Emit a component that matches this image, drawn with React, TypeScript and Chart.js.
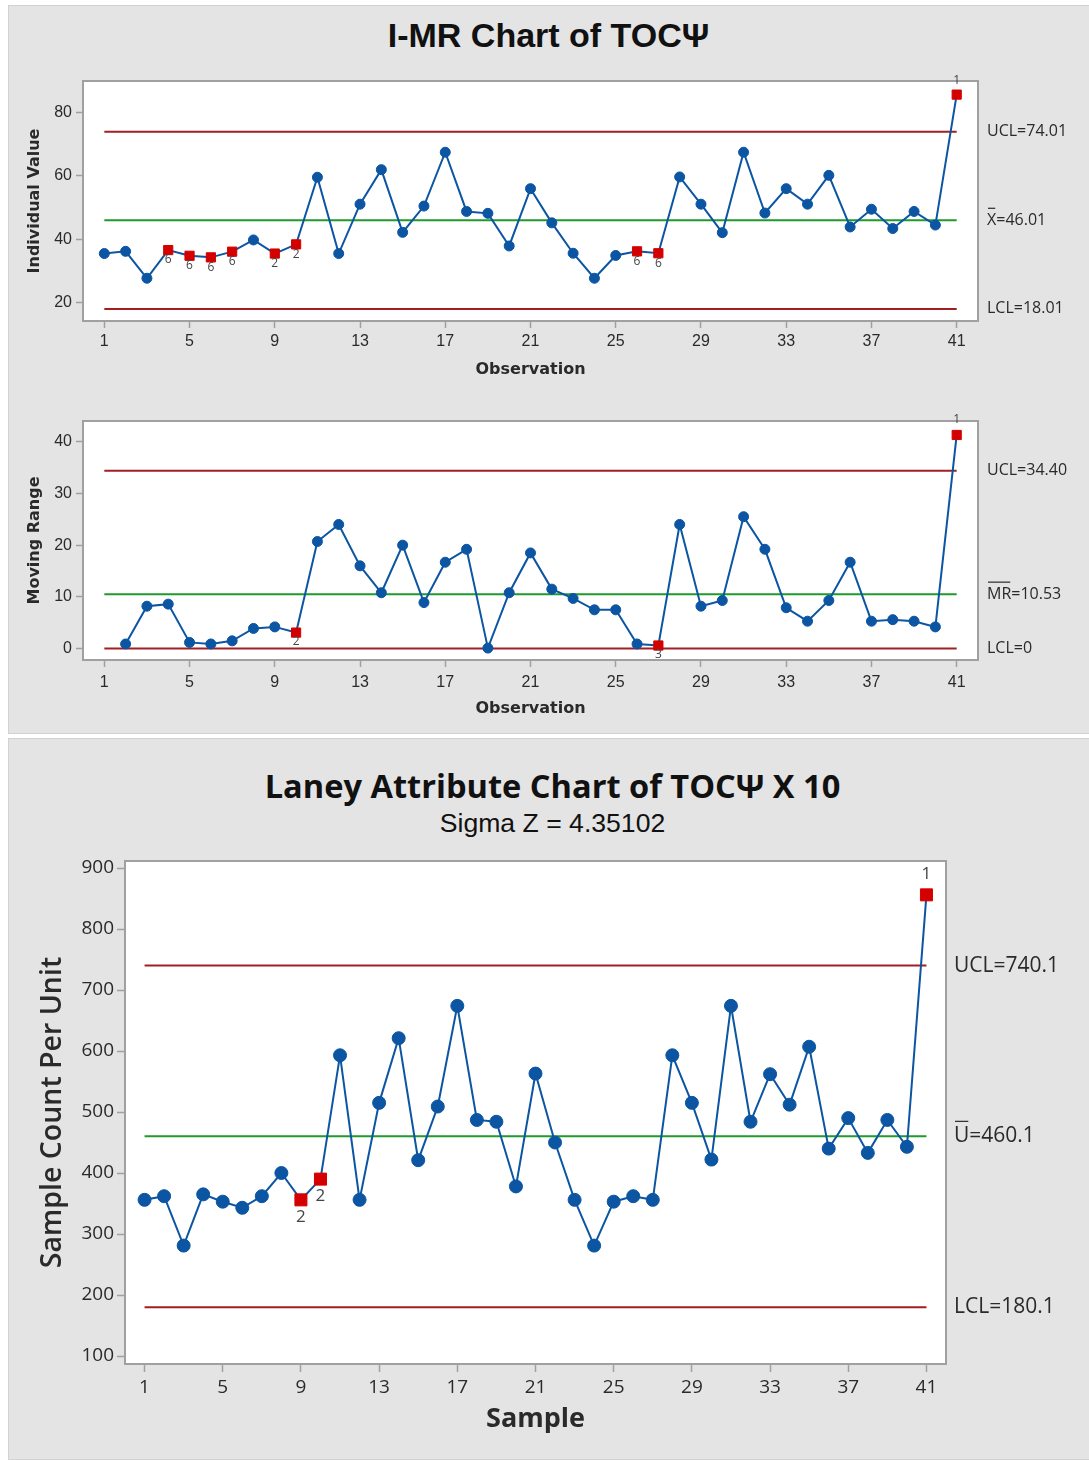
import React, { useEffect, useRef } from 'react';
import { Chart, registerables } from 'chart.js';

Chart.register(...registerables);

// ---------- data ----------
const observations = [
  1, 2, 3, 4, 5, 6, 7, 8, 9, 10, 11, 12, 13, 14, 15, 16, 17, 18, 19, 20, 21,
  22, 23, 24, 25, 26, 27, 28, 29, 30, 31, 32, 33, 34, 35, 36, 37, 38, 39, 40, 41,
];
const xTicks = [1, 5, 9, 13, 17, 21, 25, 29, 33, 37, 41];

const individualValues = [
  35.5, 36.2, 27.7, 36.6, 34.8, 34.3, 36.1, 39.8, 35.5, 38.4, 59.6, 35.5, 51.1, 62.0,
  42.2, 50.5, 67.5, 48.8, 48.2, 37.9, 56.0, 45.2, 35.6, 27.7, 34.9, 36.2, 35.6, 59.7,
  51.1, 42.1, 67.5, 48.3, 56.0, 51.1, 60.2, 43.9, 49.5, 43.4, 48.8, 44.5, 85.7,
];
const iLimits = { ucl: 74.01, cl: 46.01, lcl: 18.01 };
const iYTicks = [20, 40, 60, 80];
const iFlagObs = [4, 5, 6, 7, 9, 10, 26, 27, 41];
const iFlagText = ['6', '6', '6', '6', '2', '2', '6', '6', '1'];

const movingRanges = [
  null, 0.9, 8.2, 8.6, 1.2, 0.9, 1.5, 3.9, 4.2, 3.1, 20.7, 24.0, 16.0, 10.8, 20.0, 8.9,
  16.7, 19.2, 0.1, 10.8, 18.5, 11.5, 9.7, 7.5, 7.5, 0.9, 0.6, 24.0, 8.2, 9.3, 25.5, 19.2,
  7.9, 5.3, 9.3, 16.7, 5.3, 5.6, 5.3, 4.2, 41.3,
];
const mrLimits = { ucl: 34.4, cl: 10.53, lcl: 0 };
const mrYTicks = [0, 10, 20, 30, 40];
const mrFlagObs = [10, 27, 41];
const mrFlagText = ['2', '3', '1'];

const laneyValues = [
  356, 362, 281, 365, 353, 343, 362, 400, 356, 390, 593, 356, 515, 621, 421, 509, 674,
  487, 484, 378, 563, 450, 356, 281, 353, 362, 356, 593, 515, 422, 674, 484, 562, 512,
  607, 440, 490, 433, 487, 443, 856,
];
const uLimits = { ucl: 740.1, cl: 460.1, lcl: 180.1 };
const uYTicks = [100, 200, 300, 400, 500, 600, 700, 800, 900];
const uFlagObs = [9, 10, 41];
const uFlagText = ['2', '2', '1'];

// ---------- styles ----------
const BLUE = '#0b55a3';
const RED = '#d40000';
const LIMIT = '#a01f22';
const CENTER = '#1f9a2c';
const FRAME = '#a0a0a0';
const TEXT = '#2a2a2a';

type Spec = {
  top: number;
  height: number;
  padTop: number;
  padRight: number;
  yAxisW: number;
  xAxisH: number;
  xMin: number;
  xMax: number;
  yMin: number;
  yMax: number;
  yTicks: number[];
  values: (number | null)[];
  limits: { ucl: number; cl: number; lcl: number };
  limitLabels: { text: string; value: number; bar?: string }[];
  flagObs: number[];
  flagText: string[];
  xTitle: string;
  yTitle: string;
  tickFont: any;
  tickPadX: number;
  tickPadY: number;
  tickLen: number;
  titleFont: any;
  xTitlePad: number;
  yTitlePad: number;
  yTitleFont: any;
  labelX: number;
  labelFont: string;
  barRise: number;
  flagFont: string;
  flagBelow: number;
  flagAbove: number;
  pointR: number;
  rectR: number;
  lineW: number;
};

const imrPlugin = {
  id: 'imr',
  beforeDraw(chart: any) {
    const { ctx, chartArea: a } = chart;
    ctx.save();
    ctx.fillStyle = '#ffffff';
    ctx.fillRect(a.left, a.top, a.right - a.left, a.bottom - a.top);
    ctx.restore();
  },
  beforeDatasetsDraw(chart: any) {
    const { ctx, chartArea: a } = chart;
    ctx.save();
    ctx.strokeStyle = FRAME;
    ctx.lineWidth = 2;
    ctx.strokeRect(a.left, a.top, a.right - a.left, a.bottom - a.top);
    ctx.restore();
  },
  afterDatasetsDraw(chart: any, _args: any, opts: any) {
    const { ctx } = chart;
    const ys = chart.scales.y;
    ctx.save();
    ctx.font = opts.labelFont;
    ctx.fillStyle = TEXT;
    ctx.strokeStyle = TEXT;
    ctx.textAlign = 'left';
    ctx.textBaseline = 'middle';
    (opts.limitLabels || []).forEach((l: any) => {
      const py = ys.getPixelForValue(l.value);
      ctx.fillText(l.text, opts.labelX, py);
      if (l.bar) {
        const w = ctx.measureText(l.bar).width;
        ctx.lineWidth = 1.2;
        ctx.beginPath();
        ctx.moveTo(opts.labelX + 1, py - opts.barRise);
        ctx.lineTo(opts.labelX + w - 1, py - opts.barRise);
        ctx.stroke();
      }
    });
    // rule-violation labels
    const meta = chart.getDatasetMeta(0);
    const data = chart.data.datasets[0].data;
    ctx.font = opts.flagFont;
    ctx.fillStyle = '#444';
    ctx.textAlign = 'center';
    meta.data.forEach((el: any, i: number) => {
      const raw = data[i];
      const k = opts.flagObs.indexOf(raw.x);
      if (k < 0) return;
      const above = raw.y > opts.ucl;
      ctx.fillText(opts.flagText[k], el.x, el.y + (above ? opts.flagAbove : opts.flagBelow));
    });
    ctx.restore();
  },
};

function buildConfig(s: Spec): any {
  const flagged = new Set(s.flagObs);
  const pts = observations
    .map((o, i) => ({ x: o, y: s.values[i] }))
    .filter((p) => p.y !== null && p.y !== undefined);
  const first = observations[0];
  const last = observations[observations.length - 1];
  const limitSet = (v: number, color: string) => ({
    data: [
      { x: first, y: v },
      { x: last, y: v },
    ],
    borderColor: color,
    borderWidth: 2,
    pointRadius: 0,
    fill: false,
    order: 2,
  });
  return {
    type: 'line',
    data: {
      datasets: [
        {
          data: pts,
          borderColor: BLUE,
          borderWidth: s.lineW,
          tension: 0,
          fill: false,
          order: 1,
          pointStyle: (c: any) => (c.raw && flagged.has(c.raw.x) ? 'rect' : 'circle'),
          pointRadius: (c: any) => (c.raw && flagged.has(c.raw.x) ? s.rectR : s.pointR),
          pointBackgroundColor: (c: any) => (c.raw && flagged.has(c.raw.x) ? RED : BLUE),
          pointBorderColor: (c: any) => (c.raw && flagged.has(c.raw.x) ? RED : BLUE),
          pointBorderWidth: 1,
        },
        limitSet(s.limits.ucl, LIMIT),
        limitSet(s.limits.cl, CENTER),
        limitSet(s.limits.lcl, LIMIT),
      ],
    },
    options: {
      animation: false,
      responsive: false,
      maintainAspectRatio: false,
      devicePixelRatio: 1,
      layout: { padding: { top: s.padTop, right: s.padRight, left: 0, bottom: 0 } },
      plugins: {
        legend: { display: false },
        tooltip: { enabled: false },
        imr: {
          limitLabels: s.limitLabels,
          labelX: s.labelX,
          labelFont: s.labelFont,
          barRise: s.barRise,
          flagObs: s.flagObs,
          flagText: s.flagText,
          flagFont: s.flagFont,
          flagBelow: s.flagBelow,
          flagAbove: s.flagAbove,
          ucl: s.limits.ucl,
        },
      },
      scales: {
        x: {
          type: 'linear',
          min: s.xMin,
          max: s.xMax,
          afterBuildTicks: (sc: any) => {
            sc.ticks = xTicks.map((v) => ({ value: v }));
          },
          afterFit: (sc: any) => {
            sc.height = s.xAxisH;
          },
          ticks: {
            autoSkip: false,
            maxRotation: 0,
            font: s.tickFont,
            color: TEXT,
            padding: s.tickPadX,
          },
          grid: {
            display: true,
            drawOnChartArea: false,
            drawTicks: true,
            tickLength: s.tickLen,
            tickColor: FRAME,
            tickWidth: 1.5,
          },
          border: { display: false },
          title: {
            display: true,
            text: s.xTitle,
            font: s.titleFont,
            color: TEXT,
            padding: { top: 0, bottom: s.xTitlePad },
          },
        },
        y: {
          type: 'linear',
          min: s.yMin,
          max: s.yMax,
          afterBuildTicks: (sc: any) => {
            sc.ticks = s.yTicks.map((v) => ({ value: v }));
          },
          afterFit: (sc: any) => {
            sc.width = s.yAxisW;
          },
          ticks: {
            autoSkip: false,
            font: s.tickFont,
            color: TEXT,
            padding: s.tickPadY,
          },
          grid: {
            display: true,
            drawOnChartArea: false,
            drawTicks: true,
            tickLength: s.tickLen,
            tickColor: FRAME,
            tickWidth: 1.5,
          },
          border: { display: false },
          title: {
            display: true,
            text: s.yTitle,
            font: s.yTitleFont,
            color: TEXT,
            padding: { top: s.yTitlePad, bottom: 0 },
          },
        },
      },
    },
    plugins: [imrPlugin],
  };
}

const smallTick = { family: "'Liberation Sans', Arial, sans-serif", size: 16 };
const smallTitle = { family: "'DejaVu Sans', sans-serif", size: 16, weight: 'bold' };

const iSpec: Spec = {
  top: 60,
  height: 21 + 240 + 58,
  padTop: 21,
  padRight: 111,
  yAxisW: 83,
  xAxisH: 58,
  xMin: 0,
  xMax: 42,
  yMin: 14.2,
  yMax: 90.0,
  yTicks: iYTicks,
  values: individualValues,
  limits: iLimits,
  limitLabels: [
    { text: `UCL=${iLimits.ucl.toFixed(2)}`, value: iLimits.ucl },
    { text: `X=${iLimits.cl.toFixed(2)}`, value: iLimits.cl, bar: 'X' },
    { text: `LCL=${iLimits.lcl.toFixed(2)}`, value: iLimits.lcl },
  ],
  flagObs: iFlagObs,
  flagText: iFlagText,
  xTitle: 'Observation',
  yTitle: 'Individual Value',
  tickFont: smallTick,
  tickPadX: 4,
  tickPadY: 4,
  tickLen: 7,
  titleFont: smallTitle,
  xTitlePad: 0,
  yTitlePad: 25,
  yTitleFont: smallTitle,
  labelX: 987,
  labelFont: "16px 'Open Sans', sans-serif",
  barRise: 12,
  flagFont: "12px 'Open Sans', sans-serif",
  flagBelow: 10,
  flagAbove: -14,
  pointR: 5,
  rectR: 6.5,
  lineW: 2,
};

const mrSpec: Spec = {
  ...iSpec,
  top: 395,
  height: 26 + 239 + 58,
  padTop: 26,
  yMin: -2.2,
  yMax: 44.0,
  yTicks: mrYTicks,
  values: movingRanges,
  limits: mrLimits,
  limitLabels: [
    { text: `UCL=${mrLimits.ucl.toFixed(2)}`, value: mrLimits.ucl },
    { text: `MR=${mrLimits.cl.toFixed(2)}`, value: mrLimits.cl, bar: 'MR' },
    { text: `LCL=${mrLimits.lcl}`, value: mrLimits.lcl },
  ],
  flagObs: mrFlagObs,
  flagText: mrFlagText,
  yTitle: 'Moving Range',
  tickPadX: 6,
  flagBelow: 9,
  flagAbove: -15,
};

const uSpec: Spec = {
  top: 840,
  height: 21 + 503 + 72,
  padTop: 21,
  padRight: 143,
  yAxisW: 125,
  xAxisH: 72,
  xMin: 0,
  xMax: 42,
  yMin: 86.9,
  yMax: 911.5,
  yTicks: uYTicks,
  values: laneyValues,
  limits: uLimits,
  limitLabels: [
    { text: `UCL=${uLimits.ucl.toFixed(1)}`, value: uLimits.ucl },
    { text: `U=${uLimits.cl.toFixed(1)}`, value: uLimits.cl, bar: 'U' },
    { text: `LCL=${uLimits.lcl.toFixed(1)}`, value: uLimits.lcl },
  ],
  flagObs: uFlagObs,
  flagText: uFlagText,
  xTitle: 'Sample',
  yTitle: 'Sample Count Per Unit',
  tickFont: { family: "'Open Sans', sans-serif", size: 19 },
  tickPadX: 4,
  tickPadY: 3,
  tickLen: 8,
  titleFont: { family: "'Open Sans', sans-serif", size: 27, weight: 'bold' },
  xTitlePad: 0,
  yTitlePad: 36,
  yTitleFont: { family: "'Open Sans', sans-serif", size: 28.5, weight: 600 },
  labelX: 954,
  labelFont: "21px 'Open Sans', sans-serif",
  barRise: 15,
  flagFont: "17px 'Open Sans', sans-serif",
  flagBelow: 17,
  flagAbove: -21,
  pointR: 6.5,
  rectR: 8.5,
  lineW: 2,
};

function ControlChart({ spec }: { spec: Spec }) {
  const ref = useRef<HTMLCanvasElement | null>(null);
  useEffect(() => {
    if (!ref.current) return;
    const chart = new Chart(ref.current, buildConfig(spec));
    return () => chart.destroy();
  }, [spec]);
  return (
    <canvas
      ref={ref}
      width={1089}
      height={spec.height}
      style={{ position: 'absolute', left: 0, top: spec.top, width: 1089, height: spec.height, display: 'block' }}
    />
  );
}

export default function App() {
  useEffect(() => {
    document.body.style.margin = '0';
  }, []);
  const panel: React.CSSProperties = {
    position: 'absolute',
    left: 8,
    width: 1081,
    background: '#e4e4e4',
    borderLeft: '1px solid #d2d2d2',
    borderTop: '1px solid #d2d2d2',
    borderBottom: '1px solid #d2d2d2',
    boxSizing: 'border-box',
  };
  const titleBase: React.CSSProperties = {
    position: 'absolute',
    left: 8,
    width: 1081,
    textAlign: 'center',
    color: '#111',
    whiteSpace: 'nowrap',
  };
  return (
    <div style={{ position: 'relative', width: 1089, height: 1460, background: '#fff', overflow: 'hidden' }}>
      <div style={{ ...panel, top: 5, height: 729 }} />
      <div style={{ ...panel, top: 738, height: 722 }} />
      <div
        style={{
          ...titleBase,
          top: 15,
          height: 40,
          lineHeight: '40px',
          fontFamily: "'Liberation Sans', Arial, sans-serif",
          fontWeight: 'bold',
          fontSize: 34,
        }}
      >
        I-MR Chart of TOCΨ
      </div>
      <div
        style={{
          ...titleBase,
          left: 12,
          top: 766,
          height: 40,
          lineHeight: '40px',
          fontFamily: "'Open Sans', sans-serif",
          fontWeight: 'bold',
          fontSize: 32.6,
        }}
      >
        Laney Attribute Chart of TOCΨ X 10
      </div>
      <div
        style={{
          ...titleBase,
          left: 12,
          top: 808,
          height: 30,
          lineHeight: '30px',
          fontFamily: "'Liberation Sans', Arial, sans-serif",
          fontSize: 26.6,
        }}
      >
        Sigma Z = 4.35102
      </div>
      <ControlChart spec={iSpec} />
      <ControlChart spec={mrSpec} />
      <ControlChart spec={uSpec} />
    </div>
  );
}
